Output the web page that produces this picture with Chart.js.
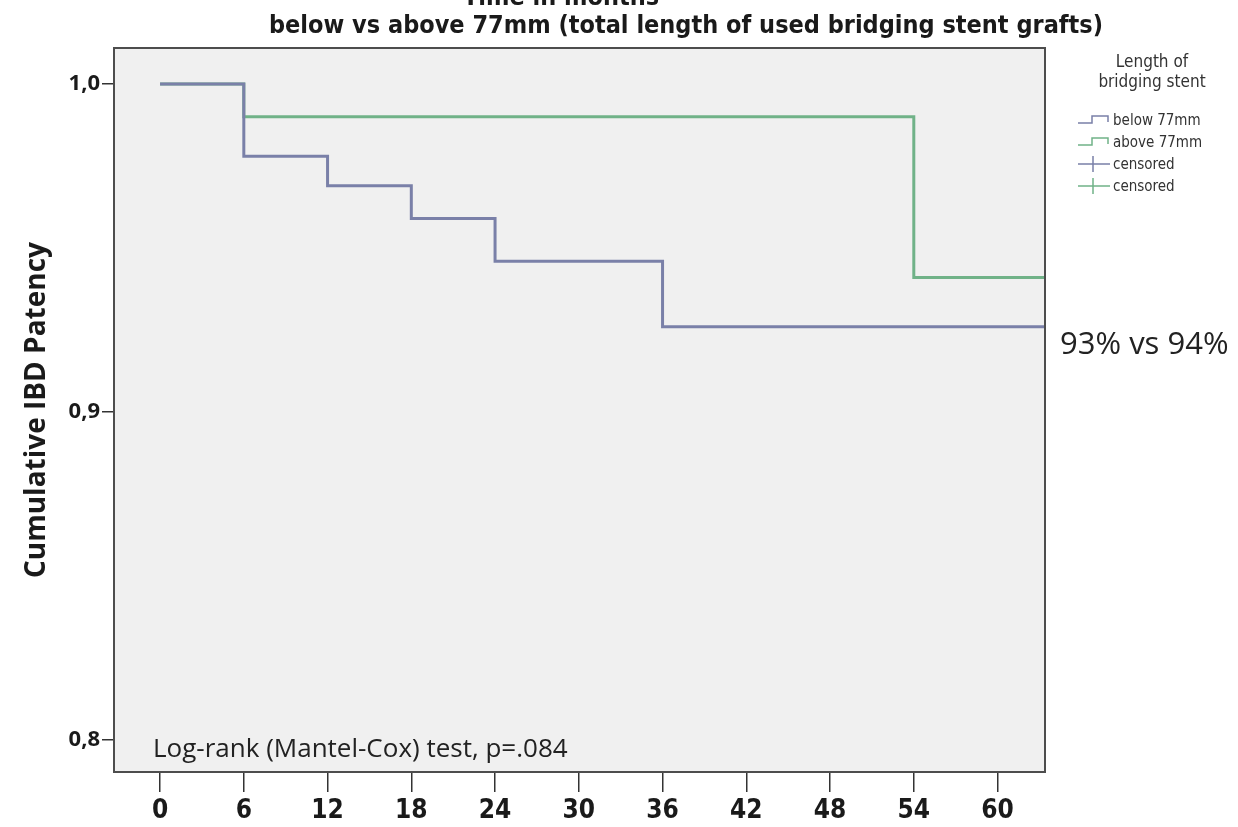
<!DOCTYPE html>
<html>
<head>
<meta charset="utf-8">
<script src="https://cdn.jsdelivr.net/npm/chart.js@4.4.0/dist/chart.umd.min.js"></script>
<style>
  html, body { margin: 0; padding: 0; background: #fff; }
  #wrap { width: 1238px; height: 827px; }
</style>
</head>
<body>
<div id="wrap"><canvas id="km" width="1238" height="827"></canvas></div>
<script>
// Kaplan-Meier data (months / cumulative patency)
var timeBelow = [0, 6, 12, 18, 24, 36, 63.4];
var patencyBelow = [1.0, 0.978, 0.969, 0.959, 0.946, 0.926, 0.926];
var timeAbove = [0, 6, 54, 63.4];
var patencyAbove = [1.0, 0.990, 0.941, 0.941];
var groupLabels = ['below 77mm', 'above 77mm'];
var xTicks = [0, 6, 12, 18, 24, 30, 36, 42, 48, 54, 60];
var yTicks = [0.8, 0.9, 1.0];

var narrow = "'Liberation Sans Narrow', 'DejaVu Sans Condensed', sans-serif";
var openSans = "'Open Sans', 'Noto Sans', sans-serif";
var blue = '#7a80a8';
var green = '#70b288';

function toPoints(xs, ys) {
    return xs.map(function(x, i) { return { x: x, y: ys[i] }; });
}

// plot panel background + frame
var panelPlugin = {
    id: 'panel',
    beforeDraw: function(chart) {
        var a = chart.chartArea, ctx = chart.ctx;
        ctx.save();
        ctx.fillStyle = '#f0f0f0';
        ctx.fillRect(a.left, a.top, a.right - a.left, a.bottom - a.top);
        ctx.restore();
    },
    afterDraw: function(chart) {
        var a = chart.chartArea, ctx = chart.ctx;
        ctx.save();
        ctx.strokeStyle = '#4d4d4d';
        ctx.lineWidth = 2;
        ctx.strokeRect(a.left, a.top, a.right - a.left, a.bottom - a.top);
        ctx.restore();
    }
};

// titles, annotations and the SPSS style legend
var textPlugin = {
    id: 'texts',
    afterDraw: function(chart) {
        var ctx = chart.ctx, a = chart.chartArea;
        ctx.save();
        ctx.fillStyle = '#1a1a1a';
        ctx.textBaseline = 'alphabetic';

        ctx.font = 'bold 25px ' + narrow;
        ctx.textAlign = 'center';
        ctx.fillText('Time in months', 561, 5);
        ctx.fillText('below vs above 77mm (total length of used bridging stent grafts)', 686, 33);

        ctx.textAlign = 'left';
        ctx.fillStyle = '#222';
        ctx.font = '26px ' + openSans;
        ctx.fillText('Log-rank (Mantel-Cox) test, p=.084', a.left + 39, 757);
        ctx.font = '31px ' + openSans;
        ctx.fillText('93% vs 94%', a.right + 15, 354);

        // legend
        ctx.fillStyle = '#333';
        ctx.textAlign = 'center';
        ctx.font = '17px ' + narrow;
        ctx.fillText('Length of', 1152, 67);
        ctx.fillText('bridging stent', 1152, 87);

        ctx.textAlign = 'left';
        ctx.font = '15px ' + narrow;
        var ds = chart.data.datasets;
        var rows = [
            { label: ds[0].label, color: ds[0].borderColor, kind: 'step' },
            { label: ds[1].label, color: ds[1].borderColor, kind: 'step' },
            { label: 'censored', color: ds[0].borderColor, kind: 'cross' },
            { label: 'censored', color: ds[1].borderColor, kind: 'cross' }
        ];
        var lx = 1078, y0 = 120, dy = 22;
        rows.forEach(function(r, i) {
            var y = y0 + i * dy;
            ctx.strokeStyle = r.color;
            ctx.lineWidth = 1.5;
            ctx.beginPath();
            if (r.kind === 'step') {
                ctx.moveTo(lx, y + 3);
                ctx.lineTo(lx + 14, y + 3);
                ctx.lineTo(lx + 14, y - 4);
                ctx.lineTo(lx + 30, y - 4);
                ctx.lineTo(lx + 30, y + 2);
            } else {
                ctx.moveTo(lx, y);
                ctx.lineTo(lx + 32, y);
                ctx.moveTo(lx + 15, y - 8);
                ctx.lineTo(lx + 15, y + 8);
            }
            ctx.stroke();
            ctx.fillStyle = '#333';
            ctx.fillText(r.label, lx + 35, y + 5);
        });
        ctx.restore();
    }
};

new Chart(document.getElementById('km'), {
    type: 'line',
    data: {
        datasets: [
            {
                label: groupLabels[0],
                data: toPoints(timeBelow, patencyBelow),
                borderColor: blue,
                borderWidth: 3,
                stepped: true,
                pointRadius: 0,
                fill: false
            }, {
                label: groupLabels[1],
                data: toPoints(timeAbove, patencyAbove),
                borderColor: green,
                borderWidth: 3,
                stepped: true,
                pointRadius: 0,
                fill: false
            }
        ]
    },
    options: {
        responsive: false,
        animation: false,
        layout: { padding: { top: 48, right: 193, left: 0, bottom: 0 } },
        plugins: {
            legend: { display: false },
            tooltip: { enabled: false }
        },
        scales: {
            x: {
                type: 'linear',
                min: -3.3,
                max: 63.4,
                afterBuildTicks: function(scale) {
                    scale.ticks = xTicks.map(function(v) { return { value: v }; });
                },
                afterFit: function(scale) { scale.height = 55; },
                grid: { drawOnChartArea: false, drawTicks: true, tickLength: 20, color: '#333', lineWidth: 1.5 },
                border: { display: false },
                ticks: {
                    padding: 4,
                    maxRotation: 0,
                    color: '#1a1a1a',
                    font: { family: narrow, size: 26, weight: 'bold' }
                }
            },
            y: {
                type: 'linear',
                min: 0.7902,
                max: 1.011,
                afterBuildTicks: function(scale) {
                    scale.ticks = yTicks.map(function(v) { return { value: v }; });
                },
                afterFit: function(scale) { scale.width = 114; },
                grid: { drawOnChartArea: false, drawTicks: true, tickLength: 12, color: '#333', lineWidth: 1.5 },
                border: { display: false },
                ticks: {
                    padding: 2,
                    color: '#1a1a1a',
                    font: { family: openSans, size: 22, weight: 'bold' },
                    callback: function(v) { return v.toFixed(1).replace('.', ','); }
                },
                title: {
                    display: true,
                    text: 'Cumulative IBD Patency',
                    color: '#1a1a1a',
                    font: { family: openSans, size: 28, weight: 'bold' },
                    padding: { top: 20, bottom: 0 }
                }
            }
        }
    },
    plugins: [panelPlugin, textPlugin]
});
</script>
</body>
</html>
